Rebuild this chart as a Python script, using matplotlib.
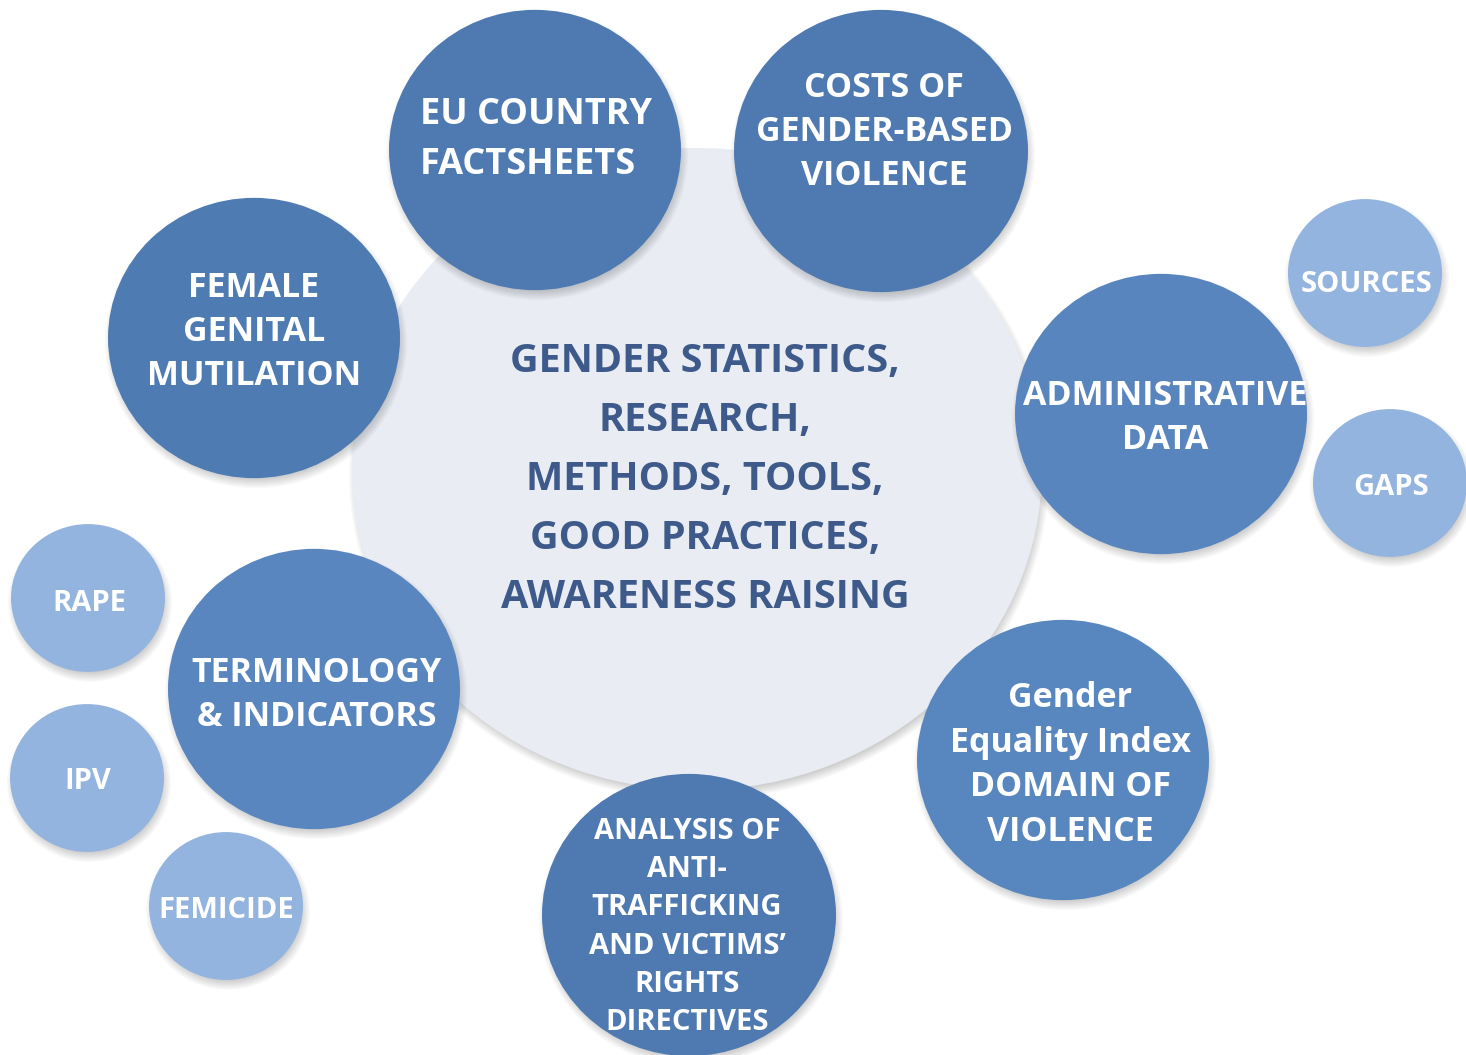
import matplotlib
matplotlib.use('Agg')
import matplotlib.pyplot as plt
from matplotlib.patches import Ellipse

FONT = ['Open Sans', 'DejaVu Sans']

# central hub
hub_x, hub_y = 697, 469
hub_w, hub_h = 690, 642
hub_lines = ["GENDER STATISTICS,", "RESEARCH,", "METHODS, TOOLS,",
             "GOOD PRACTICES,", "AWARENESS RAISING"]
hub_line_y = [357, 416, 475, 534, 593]

# main topics round the hub
topic_lines = [
    ["EU COUNTRY", "FACTSHEETS"],
    ["COSTS OF", "GENDER-BASED", "VIOLENCE"],
    ["FEMALE", "GENITAL", "MUTILATION"],
    ["ADMINISTRATIVE", "DATA"],
    ["TERMINOLOGY", "& INDICATORS"],
    ["Gender", "Equality Index", "DOMAIN OF", "VIOLENCE"],
    ["ANALYSIS OF", "ANTI-", "TRAFFICKING", "AND VICTIMS\u2019", "RIGHTS", "DIRECTIVES"],
]
topic_x = [535, 881, 254, 1161, 314, 1063, 689]
topic_y = [150, 151, 338, 414, 689, 760, 915]
topic_r = [146, 147, 146, 146, 146, 146, 147]
topic_text_x = [420, 884, 254, 1165, 317, 1070, 687]
topic_text_ha = ['left', 'center', 'center', 'center', 'center', 'center', 'center']
topic_text_y0 = [110, 84, 284, 392, 669, 694, 828]
topic_line_gap = [51, 44, 44, 44, 44, 44.7, 38.2]
topic_size = [26, 24.5, 24.5, 24.5, 24.5, 24.5, 21]
topic_colors = ['#4E7AB1', '#4E7AB1', '#4E7BB2', '#5985BE', '#5986BF', '#5886BE', '#4E7AB1']

# small sub-topic bubbles
sub_labels = ["SOURCES", "GAPS", "RAPE", "IPV", "FEMICIDE"]
sub_x = [1365, 1390, 88, 87, 226]
sub_y = [273, 483, 598, 778, 906]
sub_r = 77
sub_text_x = [1366, 1391, 89, 88, 226]
sub_text_y = [281, 484, 600, 778, 907]
sub_color = '#93B4DF'

SQUASH = 0.96


def shadow(ax, x, y, w, h, z):
    # soft drop shadow, a stack of faint ellipses
    for k in range(8):
        ax.add_patch(Ellipse((x + 2, y + 5), w + 10 - 2.5 * k, h + 10 - 2.5 * k,
                             color='k', alpha=0.025, lw=0, zorder=z))


fig = plt.figure(figsize=(14.66, 10.55), dpi=100)
ax = fig.add_axes([0, 0, 1, 1])
ax.set_xlim(0, 1466)
ax.set_ylim(1055, 0)
ax.axis('off')

# hub
shadow(ax, hub_x, hub_y, hub_w, hub_h, 1)
ax.add_patch(Ellipse((hub_x, hub_y), hub_w, hub_h, color='#E9EDF3', lw=0, zorder=2))
for line, y in zip(hub_lines, hub_line_y):
    ax.text(hub_x + 8, y, line, ha='center', va='center_baseline', fontsize=28.5,
            fontweight='bold', color='#3D5A8A', family=FONT, zorder=3)

# main topics
for i in range(len(topic_lines)):
    w = 2 * topic_r[i]
    h = w * SQUASH
    shadow(ax, topic_x[i], topic_y[i], w, h, 4)
    ax.add_patch(Ellipse((topic_x[i], topic_y[i]), w, h, color=topic_colors[i], lw=0, zorder=5))
    for j, line in enumerate(topic_lines[i]):
        ax.text(topic_text_x[i], topic_text_y0[i] + j * topic_line_gap[i], line,
                ha=topic_text_ha[i], va='center_baseline', fontsize=topic_size[i],
                fontweight='bold', color='white', family=FONT, zorder=6)

# sub topics
for i in range(len(sub_labels)):
    w = 2 * sub_r
    h = w * SQUASH
    shadow(ax, sub_x[i], sub_y[i], w, h, 7)
    ax.add_patch(Ellipse((sub_x[i], sub_y[i]), w, h, color=sub_color, lw=0, zorder=8))
    ax.text(sub_text_x[i], sub_text_y[i], sub_labels[i], ha='center', va='center_baseline',
            fontsize=21, fontweight='bold', color='white', family=FONT, zorder=9)

fig.savefig('out.png', dpi=100)
